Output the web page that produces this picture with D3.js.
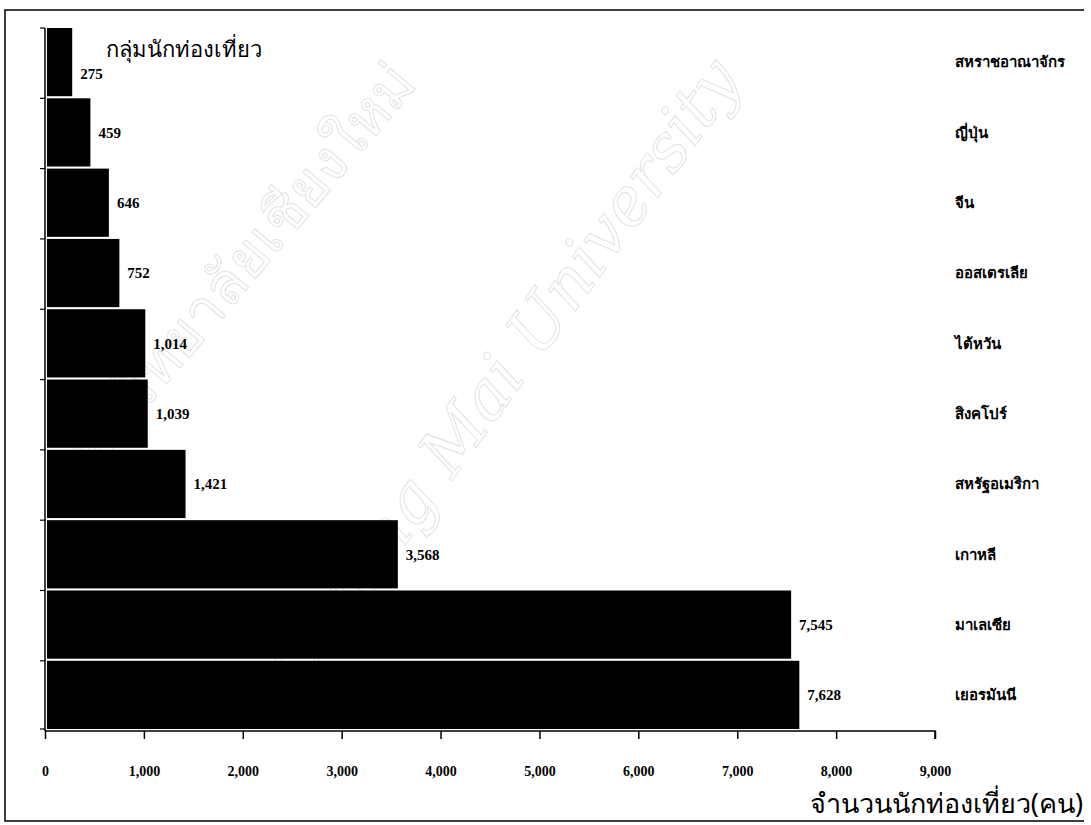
<!DOCTYPE html>
<html>
<head>
<meta charset="utf-8">
<script src="https://cdn.jsdelivr.net/npm/d3@7"></script>
<style>
  html, body { margin: 0; padding: 0; background: #fff; }
  svg { display: block; }
</style>
</head>
<body>
<svg id="chart" width="1091" height="825"></svg>
<script>
const categories = ["สหราชอาณาจักร", "ญี่ปุ่น", "จีน", "ออสเตรเลีย", "ไต้หวัน", "สิงคโปร์", "สหรัฐอเมริกา", "เกาหลี", "มาเลเซีย", "เยอรมันนี"];
const visitors = [275, 459, 646, 752, 1014, 1039, 1421, 3568, 7545, 7628];
const xTicks = [0, 1000, 2000, 3000, 4000, 5000, 6000, 7000, 8000, 9000];
const chartTitle = "กลุ่มนักท่องเที่ยว";
const axisTitle = "จำนวนนักท่องเที่ยว(คน)";
const watermarkThai = "มหาวิทยาลัยเชียงใหม่";
const watermarkEng = "Chiang Mai University";

const svg = d3.select("#chart");
const thaiFont = "'Noto Sans', 'DejaVu Sans', sans-serif";
const numFont = "'Liberation Serif', 'Times New Roman', serif";

// watermark (faint outline text, kept inside the picture)
svg.append("text")
  .attr("transform", "translate(70,500) rotate(-50)")
  .attr("font-family", "'DejaVu Serif', serif")
  .attr("font-size", 58)
  .attr("fill", "none").attr("stroke", "#e2e2e2").attr("stroke-width", 1)
  .text(watermarkThai);
svg.append("text")
  .attr("transform", "translate(300,690) rotate(-54)")
  .attr("font-family", "'DejaVu Serif', serif")
  .attr("font-style", "italic")
  .attr("font-size", 66)
  .attr("fill", "none").attr("stroke", "#e2e2e2").attr("stroke-width", 1)
  .text(watermarkEng);

// frame
svg.append("path")
  .attr("d", "M1084,10 L5,10 L5,821 L1084,821")
  .attr("fill", "none").attr("stroke", "#000").attr("stroke-width", 1.5);

const x = d3.scaleLinear().domain([0, 9000]).range([45, 935]);
const y = d3.scaleBand().domain(categories).range([28, 729]).paddingInner(0.03).paddingOuter(0);

// bars
svg.append("g").selectAll("rect")
  .data(categories)
  .join("rect")
  .attr("x", x(0) + 2)
  .attr("y", d => y(d))
  .attr("width", (d, i) => x(visitors[i]) - x(0) - 2)
  .attr("height", y.bandwidth())
  .attr("fill", "#000");

// x axis
const xAxis = d3.axisBottom(x).tickValues(xTicks).tickSize(8).tickPadding(27)
  .tickFormat(d3.format(","));
const gx = svg.append("g").attr("transform", "translate(0,731)").call(xAxis);
gx.select(".domain").attr("d", "M45,0H935V8").attr("stroke-width", 1.5);
gx.selectAll(".tick line").attr("stroke-width", 1.5);
gx.selectAll(".tick text")
  .attr("font-family", numFont).attr("font-size", 14).attr("font-weight", "bold")
  .attr("fill", "#000");

// y axis (left line with small ticks at band boundaries)
const gy = svg.append("g");
gy.append("line").attr("x1", 45).attr("x2", 45).attr("y1", 28).attr("y2", 731)
  .attr("stroke", "#000").attr("stroke-width", 1.5);
const bounds = categories.map(c => y(c)).concat([729]);
gy.selectAll("line.tk").data(bounds).join("line").attr("class", "tk")
  .attr("x1", 40).attr("x2", 45).attr("y1", d => d).attr("y2", d => d)
  .attr("stroke", "#000").attr("stroke-width", 1.2);

// value labels
svg.append("g").selectAll("text")
  .data(categories)
  .join("text")
  .attr("x", (d, i) => x(visitors[i]) + 8)
  .attr("y", (d, i) => y(d) + y.bandwidth() / 2 + (i === 0 ? 12 : 0))
  .attr("dy", "0.35em")
  .attr("font-family", numFont).attr("font-size", 15).attr("font-weight", "bold")
  .text((d, i) => d3.format(",")(visitors[i]));

// category labels on the right
svg.append("g").selectAll("text")
  .data(categories)
  .join("text")
  .attr("x", 955)
  .attr("y", d => y(d) + y.bandwidth() / 2)
  .attr("dy", "0.35em")
  .attr("font-family", thaiFont).attr("font-size", 15).attr("font-weight", "bold")
  .text(d => d);

// title
svg.append("text")
  .attr("x", 106).attr("y", 57)
  .attr("font-family", thaiFont).attr("font-size", 22)
  .text(chartTitle);

// axis title
svg.append("text")
  .attr("x", 1083).attr("y", 813)
  .attr("text-anchor", "end")
  .attr("font-family", thaiFont).attr("font-size", 27)
  .text(axisTitle);
</script>
</body>
</html>
